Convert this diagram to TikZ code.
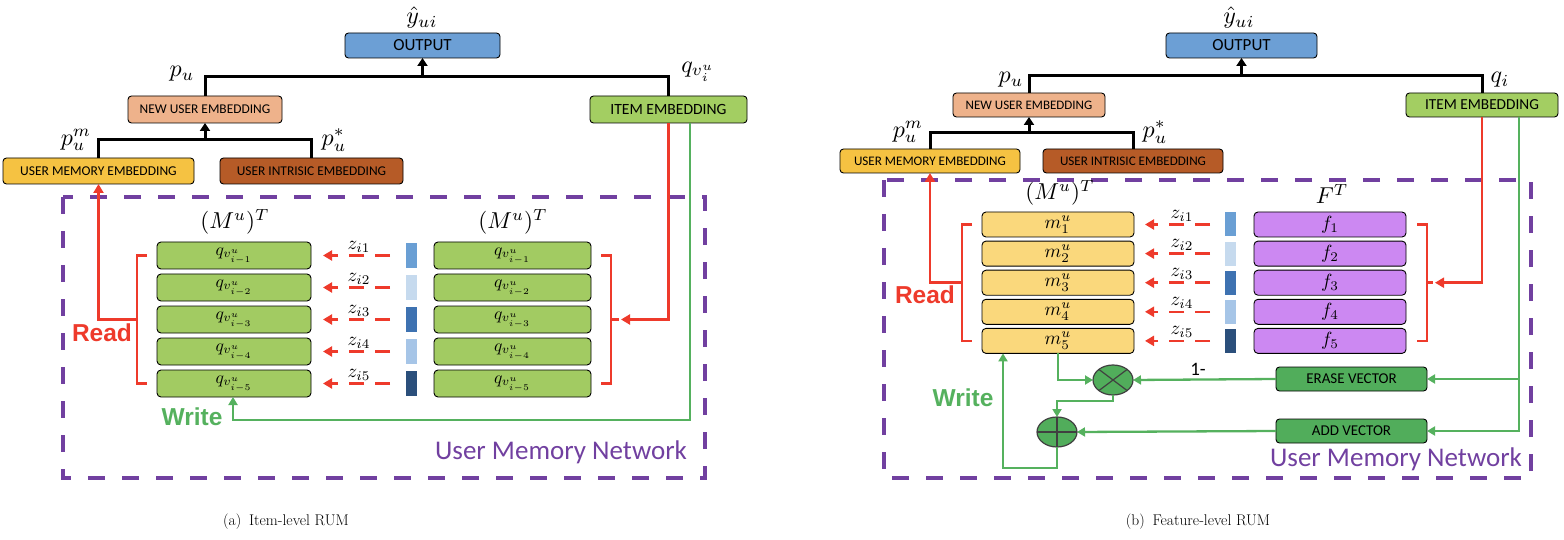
\RequirePackage{fix-cm}
\documentclass[tikz,border=0pt]{standalone}
\usepackage{fontspec}
\usepackage{graphicx}
\newfontfamily\carl{Carlito}
\newfontfamily\lsans{Liberation Sans}
\newcommand{\mth}[2]{\scalebox{#1}{$#2$}}
\usetikzlibrary{arrows.meta,shapes.geometric}
\definecolor{cout}{HTML}{6C9FD5}
\definecolor{cnew}{HTML}{EEB28B}
\definecolor{cmem}{HTML}{F5C242}
\definecolor{cint}{HTML}{B65B27}
\definecolor{citem}{HTML}{A3CE62}
\definecolor{crow}{HTML}{A2CB62}
\definecolor{cyel}{HTML}{FAD87C}
\definecolor{cpurp}{HTML}{CC88F2}
\definecolor{cvec}{HTML}{51AD5B}
\definecolor{cred}{HTML}{EE3A2B}
\definecolor{cgrn}{HTML}{55B15E}
\definecolor{cpur}{HTML}{7140A0}
\definecolor{bA}{HTML}{6A9FD4}
\definecolor{bB}{HTML}{C6DAEE}
\definecolor{bC}{HTML}{3E72B1}
\definecolor{bD}{HTML}{A6C5E7}
\definecolor{bE}{HTML}{2B4F7B}
\begin{document}
\begin{tikzpicture}[x=1pt,y=-1pt,
  emb/.style={draw=black, line width=0.9pt, rounded corners=3.5pt, inner sep=0pt, outer sep=0pt},
  rowbox/.style={draw=black, line width=0.9pt, rounded corners=4pt, inner sep=0pt, outer sep=0pt},
  barbox/.style={inner sep=0pt, outer sep=0pt, minimum width=11pt},
  blk/.style={line width=3pt, draw=black},
  blkarr/.style={blk, -{Triangle[length=8pt,width=10pt]}},
  redl/.style={draw=cred, line width=2.6pt},
  redarr/.style={-{Triangle[length=9pt,width=10pt]}},
  reddash/.style={redl, dash pattern=on 15pt off 11pt},
  grn/.style={draw=cgrn, line width=2.3pt},
  grnarr/.style={-{Triangle[length=8pt,width=9pt]}},
  umn/.style={draw=cpur, line width=3.5pt, dash pattern=on 17pt off 17pt},
  mlab/.style={inner sep=0pt},
  rwlab/.style={font=\lsans\bfseries\fontsize{24.5}{28}\selectfont, inner sep=0pt},
  umnlab/.style={font=\carl\fontsize{27}{31}\selectfont, text=cpur, inner sep=0pt},
  opnode/.style={ellipse, draw=black!75, line width=1.2pt, fill=cvec, minimum width=40pt, minimum height=30pt, inner sep=0pt, outer sep=0pt}
]
\useasboundingbox (0,0) rectangle (1564,540);

% ================= LEFT PANEL =================
\draw[umn] (63,197) rectangle (705,478);

\node[emb, fill=cout, minimum width=155pt, minimum height=25pt, font=\carl\fontsize{17}{20}\selectfont] (outL) at (422.5,45.5) {OUTPUT};
\node[emb, fill=cnew, minimum width=154pt, minimum height=27pt, font=\carl\fontsize{13.4}{16}\selectfont] (newL) at (205,109.5) {NEW USER EMBEDDING};
\node[emb, fill=citem, minimum width=157pt, minimum height=27pt, font=\carl\fontsize{15.6}{18}\selectfont] (itemL) at (668.5,109.5) {ITEM EMBEDDING};
\node[emb, fill=cmem, minimum width=191pt, minimum height=26pt, font=\carl\fontsize{13.5}{16}\selectfont] (memL) at (98.5,171) {USER MEMORY EMBEDDING};
\node[emb, fill=cint, minimum width=183pt, minimum height=26pt, font=\carl\fontsize{13.4}{16}\selectfont] (intL) at (311.5,171) {USER INTRISIC EMBEDDING};

\node[mlab] (yL) at (422,18) {\mth{2.4}{\hat{y}_{ui}}};
\node[mlab] (puL) at (182,74) {\mth{2.4}{p_u}};
\node[mlab] (qL) at (698,72) {\mth{2.4}{q_{v_i^u}}};
\node[mlab] (pmL) at (76,140) {\mth{2.4}{p_u^m}};
\node[mlab] (psL) at (334,140) {\mth{2.4}{p_u^*}};

\coordinate (tL1) at (422.5,77);
\coordinate (tL2) at (205,140);
\draw[blk] (newL.north) |- (tL1) -| (itemL.north);
\draw[blkarr] (tL1) -- (outL.south);
\draw[blk] (memL.north) |- (tL2) -| (intL.north);
\draw[blkarr] (tL2) -- (newL.south);

\node[mlab] (MLa) at (235,222) {\mth{2.3}{(M^u)^T}};
\node[mlab] (MLb) at (513,222) {\mth{2.3}{(M^u)^T}};

\foreach \k/\c in {1/bA,2/bB,3/bC,4/bD,5/bE}{
  \pgfmathsetmacro{\yy}{255.5+32*(\k-1)}
  \node[rowbox, fill=crow, minimum width=154pt, minimum height=27pt] (mL\k) at (234,\yy) {\mth{1.75}{q_{v_{i-\k}^{u}}}};
  \node[rowbox, fill=crow, minimum width=157pt, minimum height=27pt] (nL\k) at (512.5,\yy) {\mth{1.75}{q_{v_{i-\k}^{u}}}};
  \node[barbox, fill=\c, minimum height=25pt] (bL\k) at (411.5,\yy) {};
  \draw[reddash, redarr] ([xshift=-16pt]bL\k.west) -- ([xshift=12pt]mL\k.east);
  \node[mlab] at ([xshift=-47pt,yshift=9pt]bL\k.west) {\mth{1.9}{z_{i\k}}};
}

% brackets and read
\draw[redl] ([xshift=-10pt]mL1.west) -- ([xshift=-20pt]mL1.west) -- ([xshift=-20pt]mL5.west) -- ([xshift=-10pt]mL5.west);
\draw[redl, redarr] ([xshift=-20pt]mL3.west) -| (memL.south);
\draw[redl] ([xshift=10pt]nL1.east) -- ([xshift=20pt]nL1.east) -- ([xshift=20pt]nL5.east) -- ([xshift=10pt]nL5.east);
\draw[redl] ([xshift=20pt]nL3.east) -- ([xshift=28pt]nL3.east);
\draw[redl, redarr] (itemL.south) |- ([xshift=30pt]nL3.east);

\coordinate (gL0) at ([xshift=21.5pt]itemL.south);
\coordinate (gL) at (233,420);
\draw[grn, grnarr] (gL0) |- (gL) -- (gL |- mL5.south);

\node[rwlab, text=cred] (readL) at (102,333) {Read};
\node[rwlab, text=cgrn] (writeL) at (192,417) {Write};
\node[umnlab] (umnL) at (561,452) {User Memory Network};

% ================= RIGHT PANEL =================
\draw[umn] (884,180) rectangle (1531,478);

\node[emb, fill=cout, minimum width=151pt, minimum height=25pt, font=\carl\fontsize{17}{20}\selectfont] (outR) at (1241.5,45.5) {OUTPUT};
\node[emb, fill=cnew, minimum width=152pt, minimum height=24pt, font=\carl\fontsize{13}{16}\selectfont] (newR) at (1029,105) {NEW USER EMBEDDING};
\node[emb, fill=citem, minimum width=152pt, minimum height=24pt, font=\carl\fontsize{15.3}{18}\selectfont] (itemR) at (1482,105) {ITEM EMBEDDING};
\node[emb, fill=cmem, minimum width=180pt, minimum height=24pt, font=\carl\fontsize{13.1}{16}\selectfont] (memR) at (930,161) {USER MEMORY EMBEDDING};
\node[emb, fill=cint, minimum width=180pt, minimum height=24pt, font=\carl\fontsize{13.1}{16}\selectfont] (intR) at (1133,161) {USER INTRISIC EMBEDDING};

\node[mlab] (yR) at (1239,18) {\mth{2.4}{\hat{y}_{ui}}};
\node[mlab] (puR) at (1011,80) {\mth{2.4}{p_u}};
\node[mlab] (qR) at (1500,80) {\mth{2.4}{q_i}};
\node[mlab] (pmR) at (908,132) {\mth{2.4}{p_u^m}};
\node[mlab] (psR) at (1155,132) {\mth{2.4}{p_u^*}};

\coordinate (tR1) at (1241.5,76);
\coordinate (tR2) at (1029,133);
\draw[blk] (newR.north) |- (tR1) -| (itemR.north);
\draw[blkarr] (tR1) -- (outR.south);
\draw[blk] (memR.north) |- (tR2) -| (intR.north);
\draw[blkarr] (tR2) -- (newR.south);

\node[mlab] (MRa) at (1060,193) {\mth{2.3}{(M^u)^T}};
\node[mlab] (FR) at (1332,194) {\mth{2.3}{F^T}};

\foreach \k/\c in {1/bA,2/bB,3/bC,4/bD,5/bE}{
  \pgfmathsetmacro{\yy}{224.5+29.1*(\k-1)}
  \node[rowbox, fill=cyel, minimum width=152pt, minimum height=25pt] (mR\k) at (1058,\yy) {\mth{1.9}{m_{\k}^{u}}};
  \node[rowbox, fill=cpurp, minimum width=152pt, minimum height=25pt] (fR\k) at (1330,\yy) {\mth{1.9}{f_{\k}}};
  \node[barbox, fill=\c, minimum height=24pt] (bR\k) at (1230.5,\yy) {};
  \draw[reddash, redarr] ([xshift=-15pt]bR\k.west) -- ([xshift=11pt]mR\k.east);
  \node[mlab] at ([xshift=-43pt,yshift=9pt]bR\k.west) {\mth{1.9}{z_{i\k}}};
}

\draw[redl] ([xshift=-10pt]mR1.west) -- ([xshift=-20pt]mR1.west) -- ([xshift=-20pt]mR5.west) -- ([xshift=-10pt]mR5.west);
\draw[redl, redarr] ([xshift=-20pt]mR3.west) -| (memR.south);
\draw[redl] ([xshift=11pt]fR1.east) -- ([xshift=21pt]fR1.east) -- ([xshift=21pt]fR5.east) -- ([xshift=11pt]fR5.east);
\draw[redl] ([xshift=21pt]fR3.east) -- ([xshift=27pt]fR3.east);
\draw[redl, redarr] (itemR.south) |- ([xshift=29pt]fR3.east);

\node[emb, fill=cvec, minimum width=151pt, minimum height=24pt, font=\carl\fontsize{15}{18}\selectfont] (eraseR) at (1351.5,379) {ERASE VECTOR};
\node[emb, fill=cvec, minimum width=151pt, minimum height=24pt, font=\carl\fontsize{15}{18}\selectfont] (addR) at (1351.5,431) {ADD VECTOR};

\coordinate (gR0) at ([xshift=37pt]itemR.south);
\draw[grn, grnarr] (gR0) |- (addR.east);
\draw[grn, grnarr] (gR0 |- eraseR.east) -- (eraseR.east);

\node[opnode] (mult) at (1113,380) {};
\draw[black!75, line width=1.2pt] (mult.north west) -- (mult.south east) (mult.north east) -- (mult.south west);
\node[opnode] (plus) at (1057,432) {};
\draw[black!75, line width=1.2pt] (plus.north) -- (plus.south);
\draw[black!75, line width=2pt] (plus.west) -- (plus.east);

\draw[grn, grnarr] (mR5.south) |- (mult.west);
\draw[grn, grnarr] (eraseR.west) -- (mult.east);
\node[font=\carl\fontsize{19}{22}\selectfont, inner sep=0pt] (one) at (1198,369) {1-};
\draw[grn, grnarr] (mult.south) -- ++(0,6) -| (plus.north);
\draw[grn, grnarr] (addR.west) -- (plus.east);
\draw[grn, grnarr] (plus.south) -- ++(0,21) -| ([xshift=-55pt]mR5.south);

\node[rwlab, text=cred] (readR) at (925,295) {Read};
\node[rwlab, text=cgrn] (writeR) at (963,398) {Write};
\node[umnlab] (umnR) at (1396,459) {User Memory Network};

% captions
\node[font=\fontsize{15.5}{18}\selectfont, inner sep=0pt] (capA) at (286,522) {(a)\enspace Item-level RUM};
\node[font=\fontsize{15.5}{18}\selectfont, inner sep=0pt] (capB) at (1198,522) {(b)\enspace Feature-level RUM};
\end{tikzpicture}
\end{document}
